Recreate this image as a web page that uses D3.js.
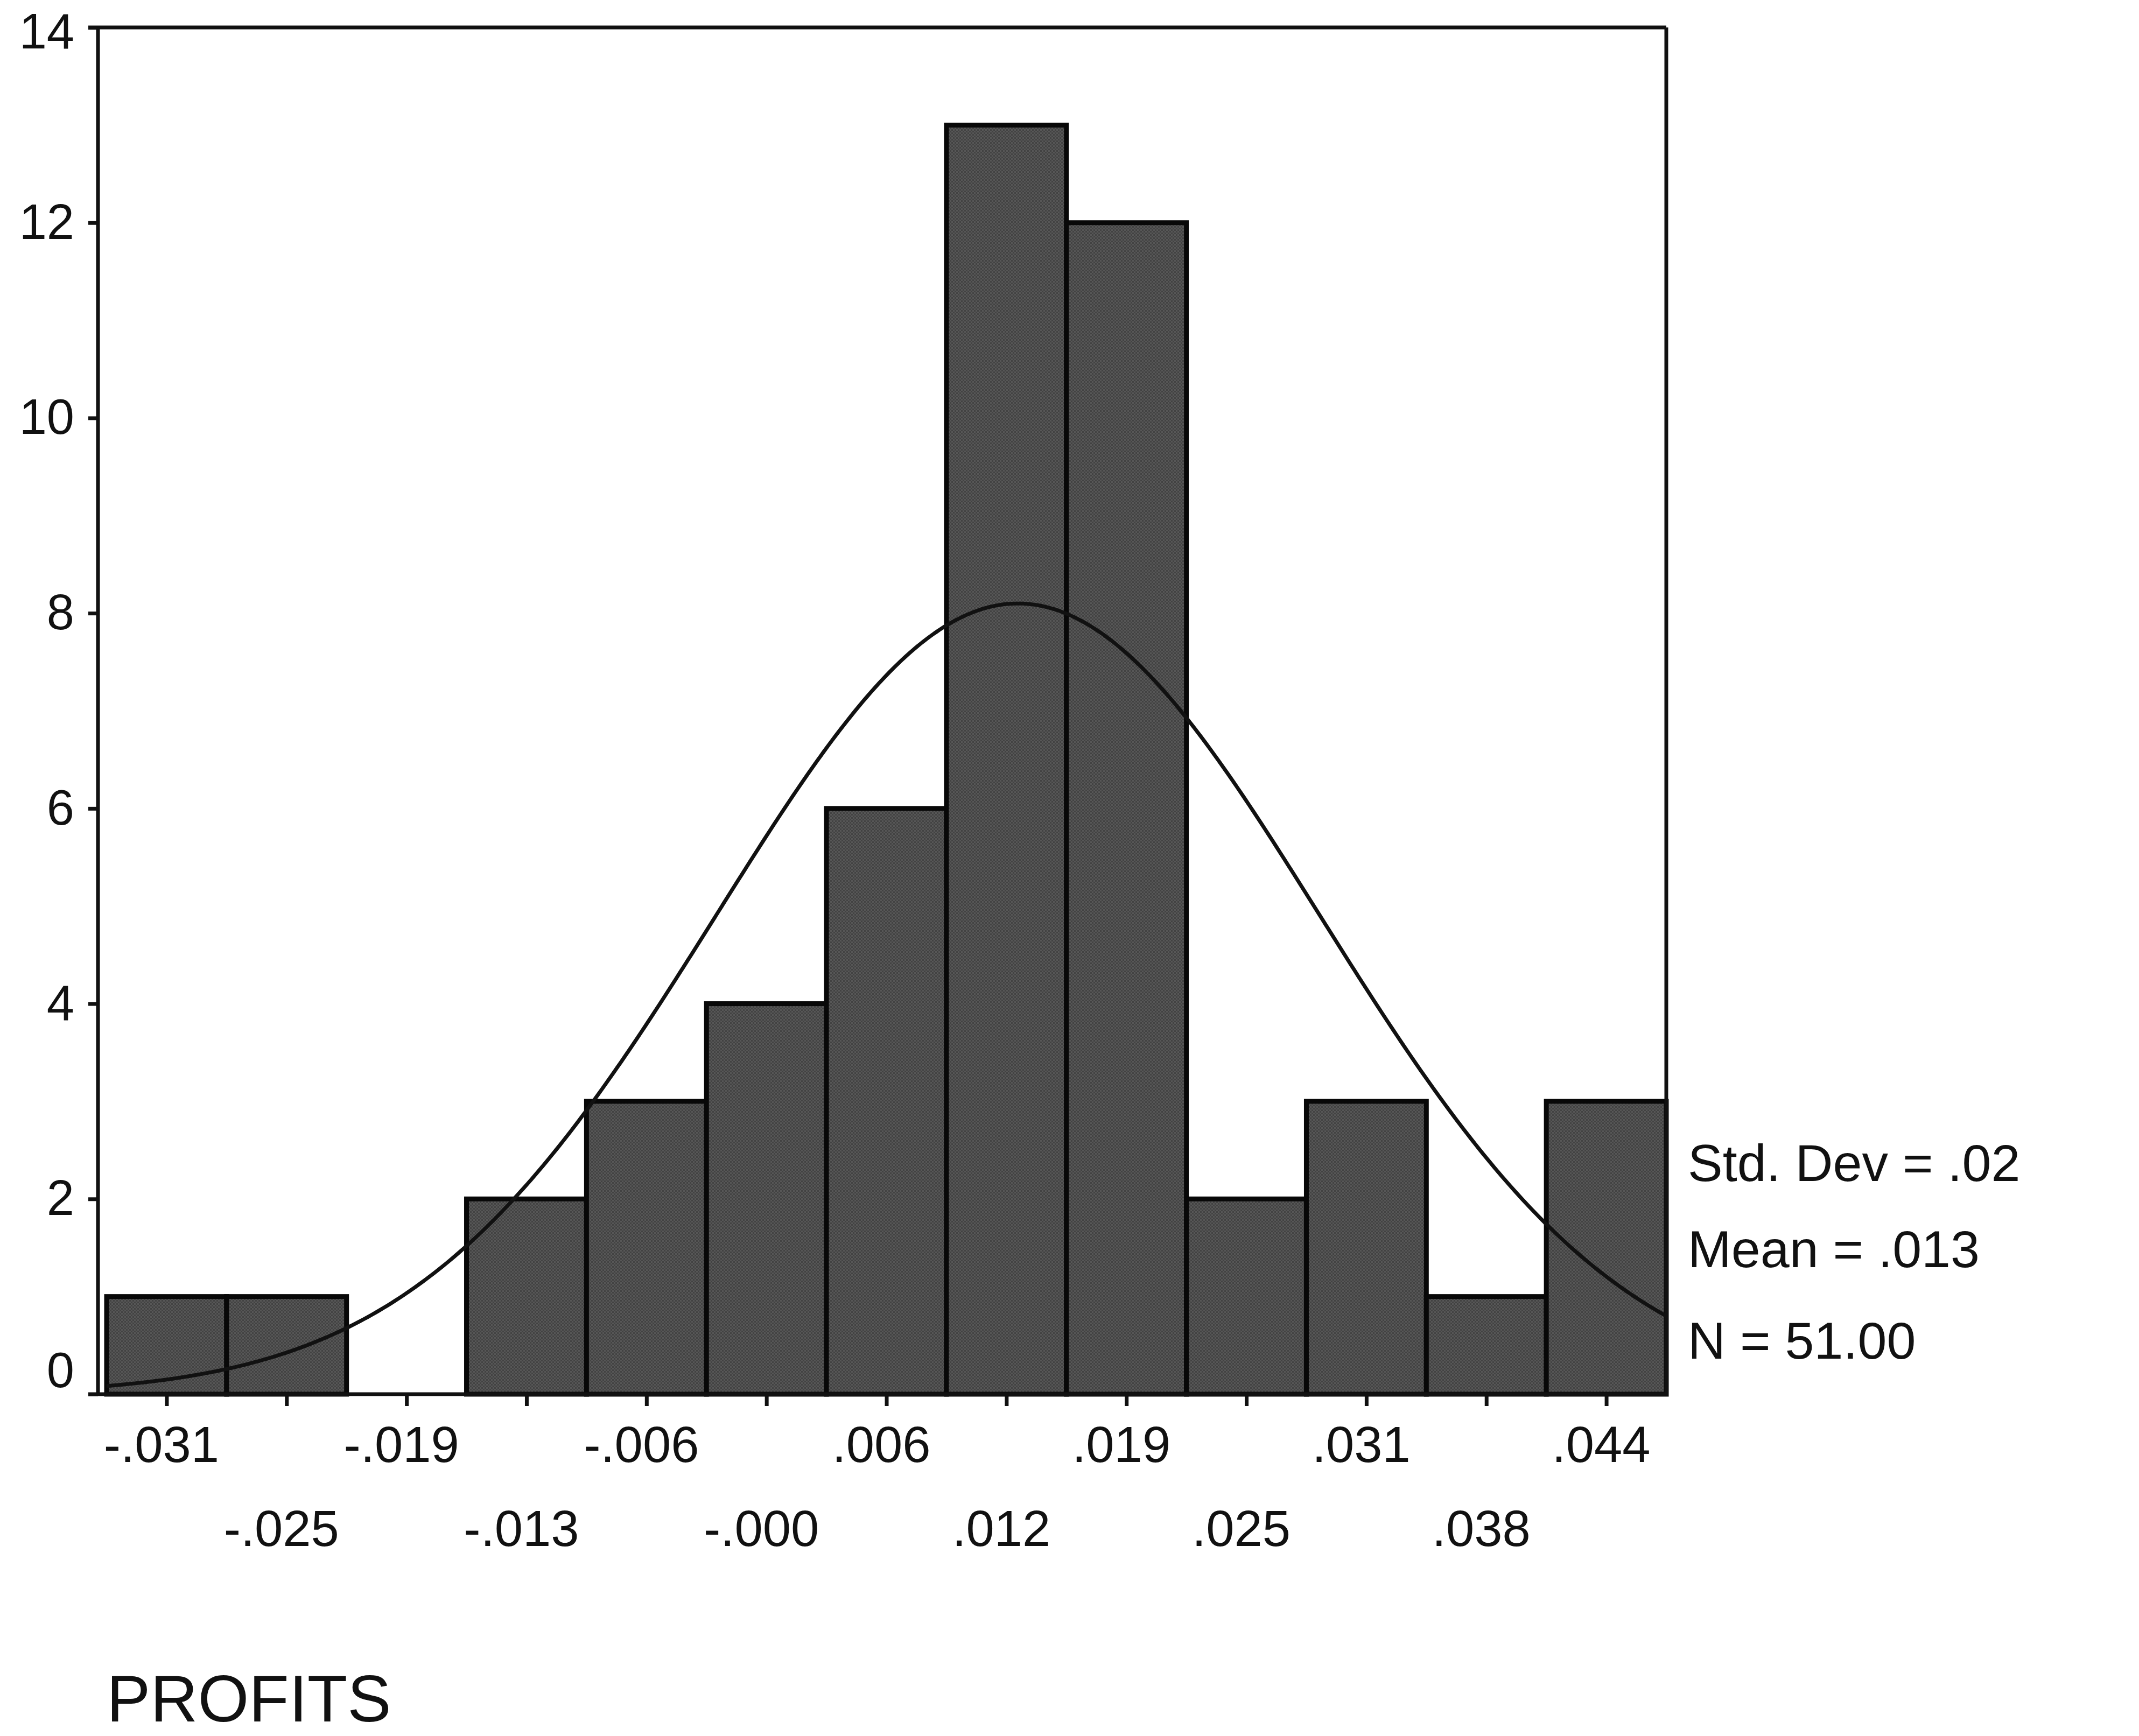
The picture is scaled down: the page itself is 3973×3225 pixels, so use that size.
<!DOCTYPE html>
<html>
<head>
<meta charset="utf-8">
<script src="https://cdn.jsdelivr.net/npm/d3@7"></script>
<style>
  html, body { margin: 0; padding: 0; background: #ffffff; }
  svg { display: block; }
</style>
</head>
<body>
<script>
// ---- Data ----
const binCenters = [-0.03125, -0.025, -0.01875, -0.0125, -0.00625, 0, 0.00625, 0.0125, 0.01875, 0.025, 0.03125, 0.0375, 0.04375];
const binLabels  = ["-.031", "-.025", "-.019", "-.013", "-.006", "-.000", ".006", ".012", ".019", ".025", ".031", ".038", ".044"];
const counts     = [1, 1, 0, 2, 3, 4, 6, 13, 12, 2, 3, 1, 3];
const binWidth   = 0.00625;
const yTicks     = [0, 2, 4, 6, 8, 10, 12, 14];
const stats      = { mean: 0.0131, sd: 0.0157, n: 51 };
const legendLines = ["Std. Dev = .02", "Mean = .013", "N = 51.00"];
const xTitle = "PROFITS";

// ---- Layout ----
const W = 3973, H = 3225;
const plotLeft = 198, plotRight = 3095, plotTop = 51, plotBottom = 2590;
const axisX = 182;
const font = "'Liberation Sans', Arial, sans-serif";
const ink = "#111111";

const svg = d3.select("body").append("svg")
  .attr("width", W).attr("height", H)
  .attr("viewBox", `0 0 ${W} ${H}`);

svg.append("rect").attr("width", W).attr("height", H).attr("fill", "#fff");

// halftone-like fill pattern
const defs = svg.append("defs");
const pat = defs.append("pattern").attr("id", "tex")
  .attr("width", 6).attr("height", 6).attr("patternUnits", "userSpaceOnUse");
pat.append("rect").attr("width", 6).attr("height", 6).attr("fill", "#424242");
pat.append("rect").attr("width", 3).attr("height", 3).attr("fill", "#575757");
pat.append("rect").attr("x", 3).attr("y", 3).attr("width", 3).attr("height", 3).attr("fill", "#575757");

const x = d3.scaleLinear()
  .domain([binCenters[0] - binWidth / 2, binCenters[binCenters.length - 1] + binWidth / 2])
  .range([plotLeft, plotRight]);
const y = d3.scaleLinear().domain([0, 14]).range([plotBottom, plotTop]);

// ---- Bars ----
const bars = binCenters.map((c, i) => ({ c, v: counts[i] })).filter(d => d.v > 0);
svg.append("g").selectAll("rect").data(bars).join("rect")
  .attr("x", d => x(d.c - binWidth / 2))
  .attr("y", d => y(d.v))
  .attr("width", d => x(d.c + binWidth / 2) - x(d.c - binWidth / 2))
  .attr("height", d => y(0) - y(d.v))
  .attr("fill", "url(#tex)")
  .attr("stroke", "#080808")
  .attr("stroke-width", 9);

// ---- Normal curve ----
const [x0, x1] = x.domain();
const curvePts = d3.range(0, 401).map(k => {
  const xv = x0 + (x1 - x0) * k / 400;
  const z = (xv - stats.mean) / stats.sd;
  const yv = stats.n * binWidth / (stats.sd * Math.sqrt(2 * Math.PI)) * Math.exp(-0.5 * z * z);
  return [xv, yv];
});
svg.append("path")
  .attr("d", d3.line().x(d => x(d[0])).y(d => y(d[1])).curve(d3.curveBasis)(curvePts))
  .attr("fill", "none").attr("stroke", ink).attr("stroke-width", 7);

// ---- Frame ----
const frame = svg.append("g").attr("stroke", ink).attr("stroke-width", 7).attr("fill", "none");
frame.append("line").attr("x1", axisX - 18).attr("x2", plotRight).attr("y1", plotTop).attr("y2", plotTop);
frame.append("line").attr("x1", plotRight).attr("x2", plotRight).attr("y1", plotTop).attr("y2", plotBottom);
frame.append("line").attr("x1", axisX).attr("x2", axisX).attr("y1", plotTop).attr("y2", plotBottom);
frame.append("line").attr("x1", axisX - 18).attr("x2", plotRight + 4).attr("y1", plotBottom).attr("y2", plotBottom);

// ---- Y axis ----
const yAxis = svg.append("g").attr("transform", `translate(${axisX},0)`)
  .call(d3.axisLeft(y).tickValues(yTicks).tickSize(18).tickPadding(26).tickFormat(d3.format("d")));
yAxis.select(".domain").remove();
yAxis.selectAll(".tick line").attr("stroke", ink).attr("stroke-width", 7);
yAxis.selectAll(".tick text")
  .attr("font-family", font).attr("font-size", 92).attr("fill", ink)
  .attr("dy", d => d === 0 ? "-0.15em" : d === 14 ? "0.42em" : "0.32em");

// ---- X axis ----
const xAxis = svg.append("g").attr("transform", `translate(0,${plotBottom})`)
  .call(d3.axisBottom(x).tickValues(binCenters).tickSize(22).tickPadding(0)
    .tickFormat((d, i) => binLabels[i]));
xAxis.select(".domain").remove();
xAxis.selectAll(".tick line").attr("stroke", ink).attr("stroke-width", 7);
xAxis.selectAll(".tick text")
  .attr("font-family", font).attr("font-size", 94).attr("fill", ink)
  .attr("dy", null)
  .attr("x", -10)
  .attr("y", (d, i) => i % 2 === 0 ? 126 : 282);

// ---- Legend ----
const legY = [2194, 2354, 2524];
svg.append("g").selectAll("text").data(legendLines).join("text")
  .attr("x", 3135).attr("y", (d, i) => legY[i])
  .attr("font-family", font).attr("font-size", 97).attr("fill", ink)
  .text(d => d);

// ---- Axis title ----
svg.append("text").attr("x", 198).attr("y", 3198)
  .attr("font-family", font).attr("font-size", 122).attr("fill", ink)
  .text(xTitle);
</script>
</body>
</html>
